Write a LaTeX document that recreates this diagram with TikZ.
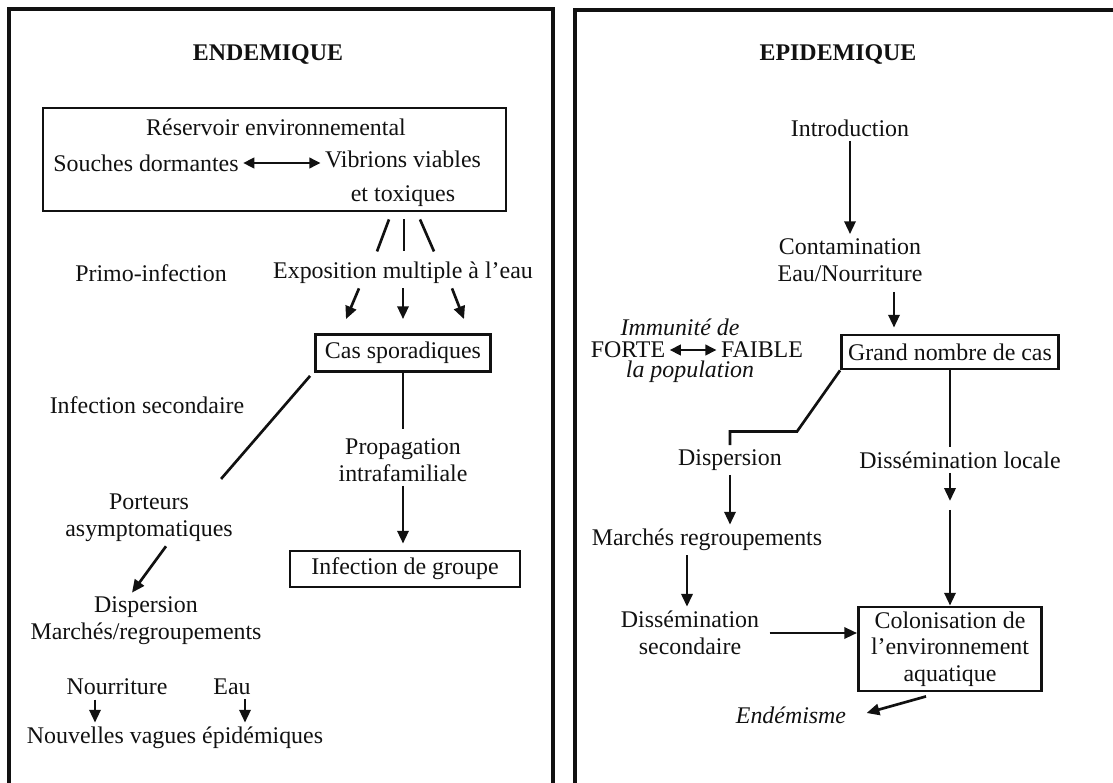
\documentclass[tikz,border=0pt]{standalone}
\usepackage{fontspec}
\setmainfont{Liberation Serif}
\usepackage{tikz}
\usepackage{xcolor}
\usetikzlibrary{arrows.meta,positioning,calc}
\definecolor{ink}{HTML}{111111}
\newcommand{\bodysize}{\fontsize{17}{19}\selectfont}
\tikzset{
  txt/.style={text=ink,align=center,font=\bodysize,inner sep=3pt},
  headtxt/.style={txt,font=\bodysize\bfseries},
  itxt/.style={txt,font=\bodysize\itshape},
  boxnode/.style={txt,draw=ink,line width=2pt},
  panel/.style={draw=ink,line width=2.4pt},
  arr/.style={-{Triangle[length=3.2mm,width=2.8mm]},line width=1.9pt,draw=ink},
  dblarr/.style={{Triangle[length=2.8mm,width=2.6mm]}-{Triangle[length=2.8mm,width=2.6mm]},
                 line width=1.9pt,draw=ink},
  link/.style={line width=1.9pt,draw=ink}
}

\begin{document}
\begin{tikzpicture}[x=0.025cm,y=-0.025cm]
    \useasboundingbox (0,0) rectangle (1113,783);
    \clip (0,0) rectangle (1113,783);
    \draw[panel] (9,800) -- (9,9) -- (553,9) -- (553,800);
    \draw[panel] (575,800) -- (575,10) -- (1130,10);

    % endemique
    \node[headtxt] (endemique) at (268,55) {ENDEMIQUE};
    \node[boxnode,minimum width=11.575cm,minimum height=2.575cm] (res) at (274.5,159.5) {};
    \node[txt] (resname) at (276,127) {Réservoir environnemental};
    \node[txt] (souches) at (146,163) {Souches dormantes};
    \node[txt] (vibrions) at (403,179) {Vibrions viables\\[5pt]et toxiques};
    \draw[dblarr] (souches.east) -- (souches.east -| vibrions.west);
    \draw[link] ($(res.south -| vibrions)+(-14,7)$) -- ++(-12,32);
    \draw[link] ($(res.south -| vibrions)+(1,7)$) -- ++(0,32);
    \draw[link] ($(res.south -| vibrions)+(17,7)$) -- ++(14,32);

    \node[txt] (primo) at (151,273) {Primo-infection};
    \node[txt] (expo) at (403,273) {Exposition multiple à l'eau};
    \node[boxnode,minimum width=4.375cm,minimum height=0.925cm] (cas) at (403,353)
      {Cas sporadiques};
    \draw[arr] ($(expo.south)+(-44,0)$) -- ($(cas.north)+(-57,-14)$);
    \draw[arr,shorten >=0.35cm] (expo) -- (cas);
    \draw[arr] ($(expo.south)+(49,0)$) -- ($(cas.north)+(61,-14)$);

    \node[txt] (infsec) at (147,405) {Infection secondaire};
    \draw[link] (cas.south west) ++(-4,3) -- ++(-89,103);
    \node[txt] (propag) at (403,460) {Propagation\\intrafamiliale};
    \draw[link,shorten >=0.12cm] (cas.south) -- (cas.south |- propag.north);
    \node[boxnode,minimum width=5.75cm,minimum height=0.9cm] (grp) at (405,569)
      {Infection de groupe};
    \draw[arr,shorten >=0.15cm] (propag.south) -- (propag.south |- grp.north);

    \node[txt] (porteurs) at (149,518) {Porteurs\\asymptomatiques};
    \node[txt] (dispL) at (146,621) {Dispersion\\Marchés/regroupements};
    \draw[arr] ($(porteurs.south)+(17,0)$) -- ($(dispL.north)+(-14,0)$);
    \node[txt] (nourr) at (117,687) {Nourriture};
    \node[txt] (eauL) at (232,687) {Eau};
    \node[txt] (vagues) at (175,738) {Nouvelles vagues épidémiques};
    \coordinate (nourrfoot) at ($(nourr.south)+(-22,0)$);
    \coordinate (eaufoot) at ($(eauL.south)+(13,0)$);
    \draw[arr] (nourrfoot) -- (nourrfoot |- vagues.north);
    \draw[arr] (eaufoot) -- (eaufoot |- vagues.north);

    % epidemique
    \node[headtxt] (epidemique) at (838,55) {EPIDEMIQUE};
    \node[txt] (intro) at (850,128) {Introduction};
    \node[txt] (contam) at (850,260) {Contamination\\Eau/Nourriture};
    \draw[arr] (intro) -- (contam);
    \node[boxnode,minimum width=5.425cm,minimum height=0.85cm] (big) at (950,352)
      {Grand nombre de cas};
    \coordinate (contamfoot) at ($(contam.south)+(44,0)$);
    \draw[arr,shorten <=0.15cm,shorten >=0.15cm] (contamfoot) -- (contamfoot |- big.north);
    \node[itxt] (immA) at (680,327) {Immunité de};
    \node[txt] (forte) at (628,350) {FORTE};
    \node[txt] (faible) at (762,350) {FAIBLE};
    \node[itxt] (immB) at (690,372) {la population};
    \draw[dblarr] (forte) -- (faible);

    \node[txt] (dispR) at (730,460) {Dispersion};
    \node[txt] (dissL) at (960,460) {Dissémination locale};
    \draw[link] (big.south west) -- ++(-43,61) -| (dispR.north);
    \draw[link] (big.south) -- (big.south |- dissL.north);
    \node[txt] (marchR) at (707,540) {Marchés regroupements};
    \draw[arr] (dispR.south) -- (dispR.south |- marchR.north);
    \draw[arr] (dissL.south -| big.south) -- ++(0,28) coordinate (relay);
    \node[txt] (dissS) at (690,633) {Dissémination\\secondaire};
    \coordinate (marchfoot) at ($(marchR.south)+(-20,0)$);
    \draw[arr] (marchfoot) -- (marchfoot |- dissS.north);
    \node[boxnode,minimum width=4.575cm,minimum height=2.1cm] (colon) at (950,649)
      {Colonisation de\\l'environnement\\aquatique};
    \draw[arr] ($(relay)+(0,9)$) -- (relay |- colon.north);
    \draw[arr,shorten <=0.15cm] (dissS.east) -- (dissS.east -| colon.west);
    \node[itxt] (endemisme) at (791,715) {Endémisme};
    \draw[arr] ($(colon.south)+(-24,4)$) -- ($(endemisme.east)+(16,-2)$);
\end{tikzpicture}
\end{document}
